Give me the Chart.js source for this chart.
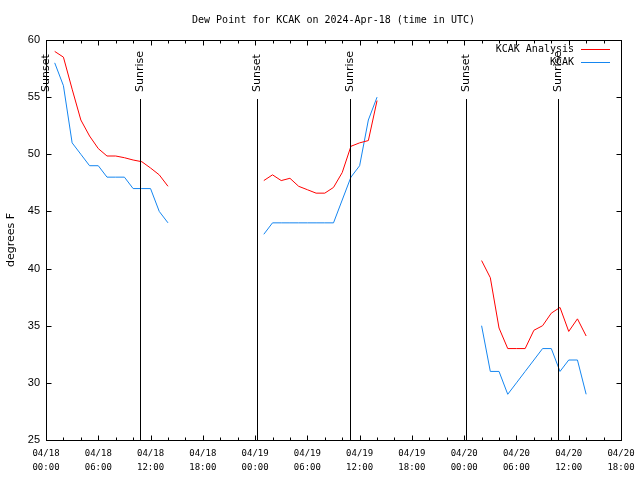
<!DOCTYPE html>
<html>
<head>
<meta charset="utf-8">
<title>Dew Point for KCAK</title>
<script src="https://cdn.jsdelivr.net/npm/chart.js@4.4.1/dist/chart.umd.min.js"></script>
<style>
    html, body { margin: 0; padding: 0; background: #fff; }
    canvas { display: block; }
</style>
</head>
<body>
<canvas id="dewChart" width="640" height="480"></canvas>
<script>
// ------------------- Data -------------------
// hours since 04/18 00:00 UTC
const hours = [
    1, 2, 3, 4, 5, 6, 7, 8, 9, 10, 11, 12, 13, 14,
    25, 26, 27, 28, 29, 30, 31, 32, 33, 34, 35, 36, 37, 38,
    50, 51, 52, 53, 54, 55, 56, 57, 58, 59, 60, 61, 62
];
const analysisDew = [
    59.0, 58.5, 55.7, 53.0, 51.6, 50.5, 49.85, 49.85, 49.7, 49.5, 49.35, 48.8, 48.2, 47.2,
    47.7, 48.2, 47.7, 47.9, 47.2, 46.9, 46.6, 46.6, 47.1, 48.4, 50.7, 51.0, 51.2, 54.7,
    40.7, 39.2, 34.8, 33.0, 33.0, 33.0, 34.6, 35.0, 36.1, 36.6, 34.5, 35.6, 34.1
];
const observedDew = [
    58, 56, 51, 50, 49, 49, 48, 48, 48, 47, 47, 47, 45, 44,
    43, 44, 44, 44, 44, 44, 44, 44, 44, 46, 48, 49, 53, 55,
    35, 31, 31, 29, 30, 31, 32, 33, 33, 31, 32, 32, 29
];
const seriesNames = ['KCAK Analysis', 'KCAK'];

const sunLabels = ['Sunset', 'Sunrise', 'Sunset', 'Sunrise', 'Sunset', 'Sunrise'];
const sunHours = [0, 10.8, 24.25, 34.85, 48.2, 58.75];

const xTickDates = ['04/18', '04/18', '04/18', '04/18', '04/19', '04/19', '04/19', '04/19', '04/20', '04/20', '04/20', '04/20'];
const xTickTimes = ['00:00', '06:00', '12:00', '18:00', '00:00', '06:00', '12:00', '18:00', '00:00', '06:00', '12:00', '18:00'];
const yTickValues = [25, 30, 35, 40, 45, 50, 55, 60];

const chartTitle = 'Dew Point for KCAK on 2024-Apr-18 (time in UTC)';
const yAxisTitle = 'degrees F';

// ------------------- Helpers -------------------
// break the line wherever an hour is missing
function toPoints(values) {
    const pts = [];
    hours.forEach((h, i) => {
        if (i > 0 && h - hours[i - 1] > 1) pts.push({ x: h - 1, y: null });
        pts.push({ x: h, y: values[i] });
    });
    return pts;
}

const RED = '#ff0000';
const BLUE = '#1586f0';
const MONO = '"DejaVu Sans Mono", monospace';
const SANS = '"DejaVu Sans", sans-serif';

// frame, inward ticks, sun lines, title, legend
const decorations = {
    id: 'decorations',
    afterDatasetsDraw(chart) {
        const ctx = chart.ctx;
        const xs = chart.scales.x;
        const ys = chart.scales.y;
        const { left, right, top, bottom } = chart.chartArea;
        const L = Math.round(left) + 0.5, R = Math.round(right) + 0.5;
        const T = Math.round(top) + 0.5, B = Math.round(bottom) + 0.5;

        ctx.save();
        ctx.strokeStyle = '#000';
        ctx.lineWidth = 1;

        const seg = (x1, y1, x2, y2) => {
            ctx.beginPath();
            ctx.moveTo(x1, y1);
            ctx.lineTo(x2, y2);
            ctx.stroke();
        };

        // sunrise / sunset markers
        ctx.fillStyle = '#000';
        ctx.font = '11px ' + SANS;
        ctx.textAlign = 'left';
        ctx.textBaseline = 'middle';
        sunHours.forEach((h, i) => {
            const px = Math.round(xs.getPixelForValue(h)) + 0.5;
            seg(px, 99, px, B);
            ctx.save();
            ctx.translate(px, 92);
            ctx.rotate(-Math.PI / 2);
            ctx.fillText(sunLabels[i], 0, 0);
            ctx.restore();
        });

        // frame
        ctx.strokeRect(L, T, R - L, B - T);

        // x ticks: major every 6 h, minor every 2 h
        for (let h = xs.min; h <= xs.max; h += 2) {
            const px = Math.round(xs.getPixelForValue(h)) + 0.5;
            const len = h % 6 === 0 ? 5 : 3;
            seg(px, B, px, B - len);
            seg(px, T, px, T + len);
        }
        // y ticks
        yTickValues.forEach(v => {
            const py = Math.round(ys.getPixelForValue(v)) + 0.5;
            seg(L, py, L + 5, py);
            seg(R, py, R - 5, py);
        });

        // title
        ctx.font = '10px ' + MONO;
        ctx.textAlign = 'center';
        ctx.fillText(chartTitle, (left + right) / 2, 20);

        // legend
        ctx.textAlign = 'right';
        [RED, BLUE].forEach((c, i) => {
            const ly = 49 + i * 13;
            ctx.fillStyle = '#000';
            ctx.fillText(seriesNames[i], 574, ly);
            ctx.strokeStyle = c;
            seg(581, ly + 0.5, 610, ly + 0.5);
        });

        // y axis title
        ctx.fillStyle = '#000';
        ctx.font = '11px ' + SANS;
        ctx.textAlign = 'center';
        ctx.translate(11, (top + bottom) / 2);
        ctx.rotate(-Math.PI / 2);
        ctx.fillText(yAxisTitle, 0, 0);
        ctx.restore();
    }
};

// ------------------- Chart -------------------
new Chart(document.getElementById('dewChart'), {
    type: 'line',
    data: {
        datasets: [
            {
                label: seriesNames[0],
                data: toPoints(analysisDew),
                borderColor: RED,
                borderWidth: 1,
                pointRadius: 0,
                tension: 0,
                spanGaps: false
            },
            {
                label: seriesNames[1],
                data: toPoints(observedDew),
                borderColor: BLUE,
                borderWidth: 1,
                pointRadius: 0,
                tension: 0,
                spanGaps: false
            }
        ]
    },
    options: {
        responsive: false,
        animation: false,
        layout: { padding: { top: 40, right: 19, left: 0, bottom: 0 } },
        plugins: {
            legend: { display: false },
            title: { display: false },
            tooltip: { enabled: false }
        },
        scales: {
            x: {
                type: 'linear',
                min: 0,
                max: 66,
                grid: { display: false, drawTicks: false },
                border: { display: false },
                afterFit: s => {
                    s.height = 40;
                    s.paddingLeft = 0;
                    s.paddingRight = 0;
                },
                ticks: {
                    stepSize: 6,
                    autoSkip: false,
                    maxRotation: 0,
                    padding: 7,
                    color: '#000',
                    font: { family: 'DejaVu Sans Mono', size: 9, lineHeight: 1.55 },
                    callback: v => [xTickDates[v / 6], xTickTimes[v / 6]]
                }
            },
            y: {
                min: 25,
                max: 60,
                grid: { display: false, drawTicks: false },
                border: { display: false },
                afterFit: s => { s.width = 46; },
                ticks: {
                    stepSize: 5,
                    padding: 6,
                    color: '#000',
                    font: { family: 'Liberation Sans', size: 11 }
                }
            }
        }
    },
    plugins: [decorations]
});
</script>
</body>
</html>
